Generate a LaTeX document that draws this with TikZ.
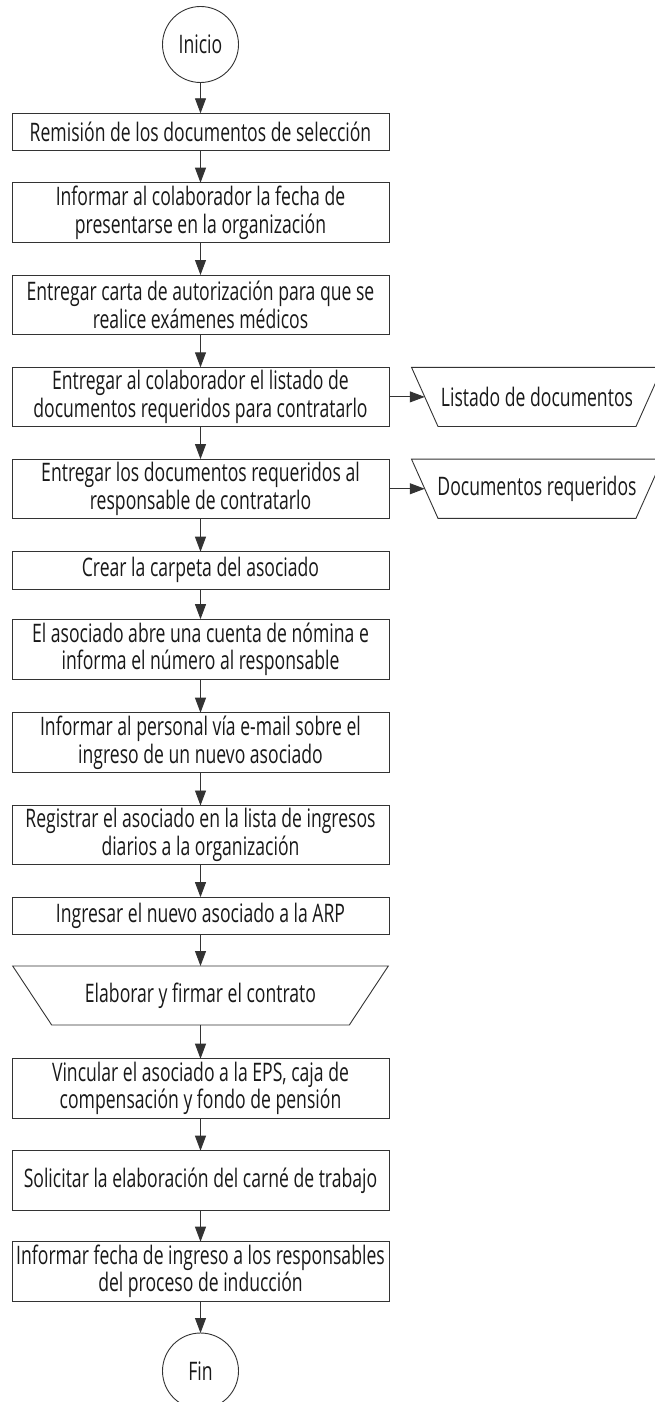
\documentclass[tikz,border=0pt]{standalone}
\usepackage{fontspec}
\setmainfont{Open Sans}[FakeStretch=0.69]
\usetikzlibrary{arrows.meta}
\begin{document}
\begin{tikzpicture}[x=1pt,y=-1pt,
  every node/.style={font=\fontsize{25.5}{27.7}\selectfont, text=black!90},
  line/.style={draw=black!80, line width=0.9pt},
  proc/.style={line, rectangle, minimum width=377pt, inner sep=0pt, outer sep=0pt, align=center},
  term/.style={line, circle, minimum size=76pt, inner sep=0pt, outer sep=0pt},
  docshape/.style={rectangle, minimum width=251pt, minimum height=59.2pt, inner sep=0pt, outer sep=0pt},
  manual/.style={rectangle, minimum width=375.6pt, minimum height=59pt, inner sep=0pt, outer sep=0pt},
  arr/.style={line, -{Triangle[length=15pt,width=11pt]}}
]
\useasboundingbox[fill=white] (0,0) rectangle (655,1402);

\node[term] (ini) at (200.5,44.5) {Inicio};
\node[proc, minimum height=37.2pt] (b1) at (200.5,131.9) {Remisión de los documentos de selección};
\node[proc, minimum height=59.6pt] (b2) at (200.5,212.5) {Informar al colaborador la fecha de\\presentarse en la organización};
\node[proc, minimum height=59.3pt] (b3) at (200.5,304.65) {Entregar carta de autorización para que se\\realice exámenes médicos};
\node[proc, minimum height=59.2pt] (b4) at (200.5,396.9) {Entregar al colaborador el listado de\\documentos requeridos para contratarlo};
\node[proc, minimum height=59.4pt] (b5) at (200.5,488.75) {Entregar los documentos requeridos al\\responsable de contratarlo};
\node[proc, minimum height=37.3pt] (b6) at (200.5,570.35) {Crear la carpeta del asociado};
\node[proc, minimum height=60pt] (b7) at (200.5,649.15) {El asociado abre una cuenta de nómina e\\informa el número al responsable};
\node[proc, minimum height=60pt] (b8) at (200.5,742.7) {Informar al personal vía e-mail sobre el\\ingreso de un nuevo asociado};
\node[proc, minimum height=59pt] (b9) at (200.5,835) {Registrar el asociado en la lista de ingresos\\diarios a la organización};
\node[proc, minimum height=37pt] (b10) at (200.5,915.65) {Ingresar el nuevo asociado a la ARP};
\node[manual] (t) at (200.5,995.5) {Elaborar y firmar el contrato};
\draw[line, line join=miter] (t.north west) -- (t.north east) -- ([xshift=-39pt]t.south east) -- ([xshift=39pt]t.south west) -- cycle;
\node[proc, minimum height=59.3pt] (b11) at (200.5,1088.35) {Vincular el asociado a la EPS, caja de\\compensación y fondo de pensión};
\node[proc, minimum height=59.3pt] (b12) at (200.5,1180.35) {Solicitar la elaboración del carné de trabajo};
\node[proc, minimum height=59.3pt] (b13) at (200.5,1271.35) {Informar fecha de ingreso a los responsables\\del proceso de inducción};
\node[term] (fin) at (200.5,1371) {Fin};

\node[docshape] (l1) at (537,396.9) {Listado de documentos};
\draw[line] (l1.north west) -- (l1.north east) -- ([xshift=-26.5pt]l1.south east) -- ([xshift=26.5pt]l1.south west) -- cycle;
\coordinate (l1w) at ([xshift=13.25pt]l1.west);
\node[docshape] (l2) at (537,488.75) {Documentos requeridos};
\draw[line] (l2.north west) -- (l2.north east) -- ([xshift=-26.5pt]l2.south east) -- ([xshift=26.5pt]l2.south west) -- cycle;
\coordinate (l2w) at ([xshift=13.25pt]l2.west);

\draw[arr] (ini) -- (b1);
\draw[arr] (b1) -- (b2);
\draw[arr] (b2) -- (b3);
\draw[arr] (b3) -- (b4);
\draw[arr] (b4) -- (b5);
\draw[arr] (b5) -- (b6);
\draw[arr] (b6) -- (b7);
\draw[arr] (b7) -- (b8);
\draw[arr] (b8) -- (b9);
\draw[arr] (b9) -- (b10);
\draw[arr] (b10) -- (t);
\draw[arr] (t) -- (b11);
\draw[arr] (b11) -- (b12);
\draw[arr] (b12) -- (b13);
\draw[arr] (b13) -- (fin);
\draw[arr] (b4.east) -- (l1w);
\draw[arr] (b5.east) -- (l2w);
\end{tikzpicture}
\end{document}
